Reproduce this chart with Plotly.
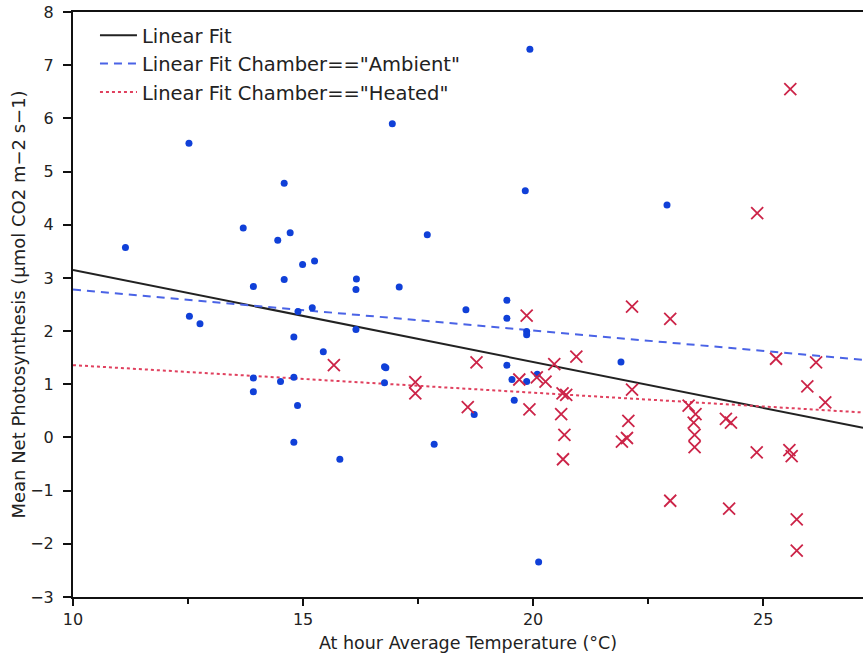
import plotly.graph_objects as go

# Ambient chamber observations
amb_x = [11.14, 12.52, 12.53, 12.76, 13.70, 13.92, 13.92, 13.92, 14.45, 14.51,
         14.59, 14.59, 14.72, 14.80, 14.80, 14.80, 14.89, 14.88, 14.99, 15.20,
         15.25, 15.44, 15.80, 16.16, 16.15, 16.15, 16.77, 16.80, 16.77, 16.94,
         17.09, 17.70, 17.85, 18.54, 18.72, 19.43, 19.43, 19.43, 19.54, 19.59,
         19.86, 19.86, 19.83, 19.93, 19.86, 20.09, 20.12, 21.91, 22.91]
amb_y = [3.57, 5.53, 2.28, 2.14, 3.94, 2.84, 1.12, 0.86, 3.71, 1.05,
         4.78, 2.97, 3.85, 1.89, 1.13, -0.09, 2.37, 0.60, 3.25, 2.44,
         3.32, 1.61, -0.41, 2.98, 2.78, 2.03, 1.33, 1.31, 1.03, 5.90,
         2.83, 3.81, -0.13, 2.40, 0.43, 2.58, 2.24, 1.36, 1.09, 0.70,
         1.99, 1.93, 4.64, 7.30, 1.05, 1.19, -2.34, 1.42, 4.37]

# Heated chamber observations
heat_x = [15.67, 17.44, 17.44, 18.58, 18.77, 19.70, 19.86, 19.92, 20.08, 20.27,
          20.46, 20.64, 20.72, 20.61, 20.68, 20.65, 20.94, 21.93, 22.04, 22.07,
          22.15, 22.15, 22.98, 22.98, 23.38, 23.53, 23.49, 23.51, 23.51, 24.19,
          24.30, 24.26, 24.87, 24.86, 25.28, 25.57, 25.62, 25.73, 25.73, 25.59,
          25.96, 26.15, 26.35]
heat_y = [1.36, 1.04, 0.83, 0.57, 1.41, 1.09, 2.29, 0.53, 1.13, 1.05,
          1.38, 0.83, 0.80, 0.44, 0.05, -0.41, 1.52, -0.08, -0.01, 0.31,
          0.90, 2.46, 2.23, -1.19, 0.60, 0.44, 0.28, 0.05, -0.18, 0.35,
          0.28, -1.34, 4.22, -0.28, 1.48, -0.24, -0.35, -1.54, -2.13, 6.55,
          0.96, 1.41, 0.66]

# Fit lines (read at the plot's x limits)
fit_x = [10.0, 27.17]
fit_all_y = [3.15, 0.18]
fit_amb_y = [2.78, 1.46]
fit_heat_y = [1.36, 0.47]

x_ticks = [10, 15, 20, 25]
x_minor_ticks = [12.5, 17.5, 22.5]
y_ticks = [-3, -2, -1, 0, 1, 2, 3, 4, 5, 6, 7, 8]

FONT = "DejaVu Sans"
RED = "#cc2448"

fig = go.Figure()
fig.add_trace(go.Scatter(x=fit_x, y=fit_all_y, mode="lines", name="Linear Fit",
                         line=dict(color="#222222", width=2)))
fig.add_trace(go.Scatter(x=fit_x, y=fit_amb_y, mode="lines",
                         name='Linear Fit Chamber=="Ambient"',
                         line=dict(color="#4a63e6", width=2, dash="8px,6px")))
fig.add_trace(go.Scatter(x=fit_x, y=fit_heat_y, mode="lines",
                         name='Linear Fit Chamber=="Heated"',
                         line=dict(color="#e0405e", width=2, dash="dot")))
fig.add_trace(go.Scatter(x=amb_x, y=amb_y, mode="markers", showlegend=False,
                         marker=dict(symbol="circle", size=7, color="#1040d8")))
fig.add_trace(go.Scatter(x=heat_x, y=heat_y, mode="markers", showlegend=False,
                         marker=dict(symbol="x-thin-open", size=12, color=RED,
                                     line=dict(color=RED, width=1.8))))

fig.update_layout(
    width=863, height=653,
    margin=dict(l=73, r=0, t=12, b=56),
    paper_bgcolor="white", plot_bgcolor="white",
    font=dict(family=FONT, color="#222222", size=16),
    legend=dict(x=0.0278, y=0.993, xanchor="left", yanchor="top",
                bgcolor="rgba(0,0,0,0)", font=dict(size=19.5, family=FONT),
                tracegroupgap=0, itemwidth=37),
)
fig.update_xaxes(
    range=[10, 27.17], tickvals=x_ticks, showgrid=False, zeroline=False,
    showline=True, linecolor="#111111", linewidth=2, mirror=True,
    ticks="outside", ticklen=7, tickwidth=1.5, tickcolor="#111111",
    minor=dict(tickvals=x_minor_ticks, ticks="outside", ticklen=5,
               tickwidth=1.5, tickcolor="#111111", showgrid=False),
    title=dict(text="At hour Average Temperature (°C)", standoff=9,
               font=dict(size=17.5)),
    tickfont=dict(size=16),
)
fig.update_yaxes(
    range=[-3, 8], tickvals=y_ticks, showgrid=False, zeroline=False,
    showline=True, linecolor="#111111", linewidth=2,
    ticks="outside", ticklen=8, tickwidth=1.5, tickcolor="#111111",
    ticklabelstandoff=6,
    title=dict(text="Mean Net Photosynthesis (µmol CO2 m−2 s−1)", standoff=0,
               font=dict(size=18)),
    tickfont=dict(size=16),
)

fig.write_html("out.html")
